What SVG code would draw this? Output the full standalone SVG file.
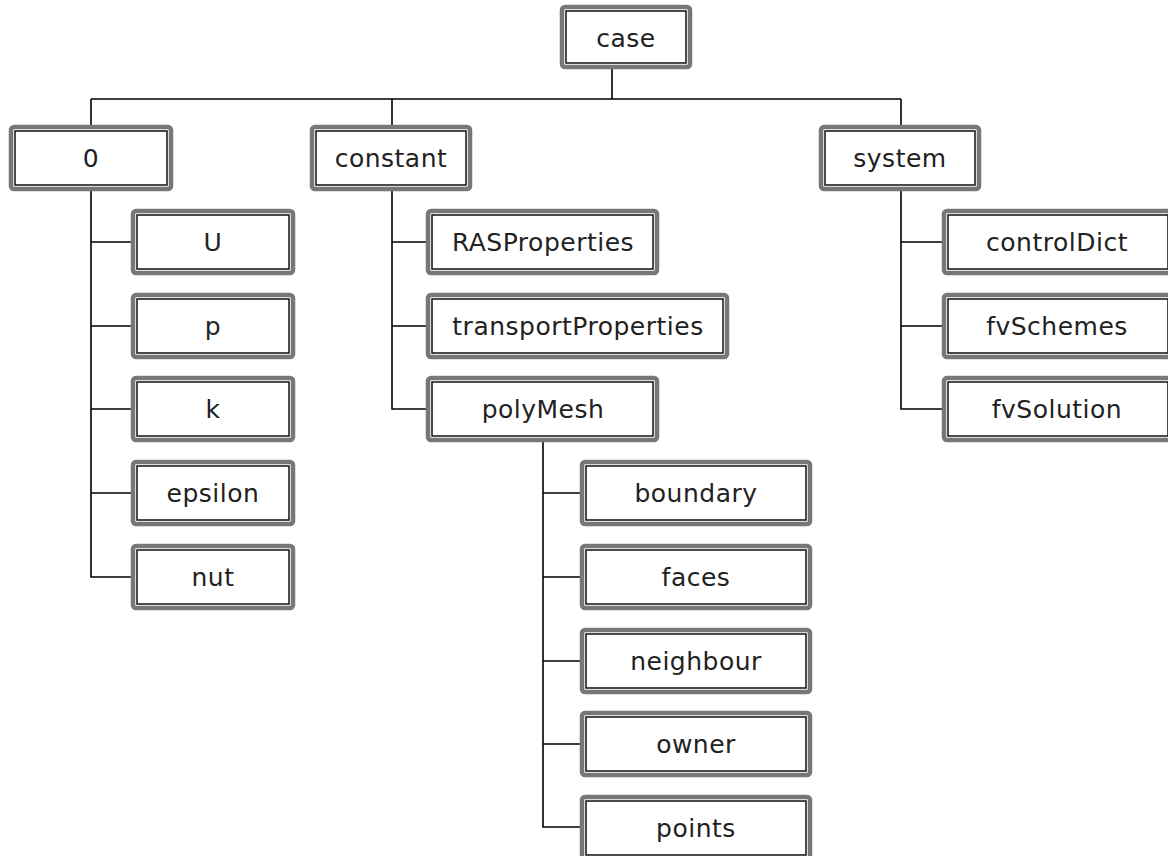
<svg xmlns="http://www.w3.org/2000/svg" width="1168" height="856" viewBox="0 0 1168 856">
<style>
.o{fill:#fff;stroke:#777;stroke-width:4.5}
.i{fill:none;stroke:#111;stroke-width:1.5}
.t{font-family:"DejaVu Sans","Verdana",sans-serif;font-size:25px;letter-spacing:0.5px;fill:#222;text-anchor:middle}
.c{fill:none;stroke:#000;stroke-width:1.6}
</style>
<defs>
<symbol id="dummy"/>
</defs>
<rect width="1168" height="856" fill="#fff"/>
<g id="connectors" class="c">
<path d="M612 67V99M91 99H901M91 99V127M392 99V127M901 99V127"/>
<path d="M91 189V577H135M91 242H135M91 326H135M91 409H135M91 493H135"/>
<path d="M392 189V409H430M392 242H430M392 326H430"/>
<path d="M543 440V827H584M543 493H584M543 577H584M543 661H584M543 744H584"/>
<path d="M901 189V409H946M901 242H946M901 326H946"/>
</g>
<g id="case"><rect class="o" x="562" y="7" width="128" height="60" rx="3"/><rect class="i" x="566" y="11" width="120" height="52"/><text class="t" x="626" y="47">case</text></g>
<g id="n0"><rect class="o" x="11" y="127" width="160" height="62" rx="3"/><rect class="i" x="15" y="131" width="152" height="54"/><text class="t" x="91" y="167">0</text></g>
<g id="constant"><rect class="o" x="312" y="127" width="158" height="62" rx="3"/><rect class="i" x="316" y="131" width="150" height="54"/><text class="t" x="391" y="167">constant</text></g>
<g id="system"><rect class="o" x="821" y="127" width="158" height="62" rx="3"/><rect class="i" x="825" y="131" width="150" height="54"/><text class="t" x="900" y="167">system</text></g>

<g id="U"><rect class="o" x="133" y="211" width="160" height="62" rx="3"/><rect class="i" x="137" y="215" width="152" height="54"/><text class="t" x="213" y="251">U</text></g>
<g id="p"><rect class="o" x="133" y="295" width="160" height="62" rx="3"/><rect class="i" x="137" y="299" width="152" height="54"/><text class="t" x="213" y="335">p</text></g>
<g id="k"><rect class="o" x="133" y="378" width="160" height="62" rx="3"/><rect class="i" x="137" y="382" width="152" height="54"/><text class="t" x="213" y="418">k</text></g>
<g id="epsilon"><rect class="o" x="133" y="462" width="160" height="62" rx="3"/><rect class="i" x="137" y="466" width="152" height="54"/><text class="t" x="213" y="502">epsilon</text></g>
<g id="nut"><rect class="o" x="133" y="546" width="160" height="62" rx="3"/><rect class="i" x="137" y="550" width="152" height="54"/><text class="t" x="213" y="586">nut</text></g>

<g id="RASProperties"><rect class="o" x="428" y="211" width="229" height="62" rx="3"/><rect class="i" x="432" y="215" width="221" height="54"/><text class="t" x="543" y="251">RASProperties</text></g>
<g id="transportProperties"><rect class="o" x="428" y="295" width="299" height="62" rx="3"/><rect class="i" x="432" y="299" width="291" height="54"/><text class="t" x="578" y="335">transportProperties</text></g>
<g id="polyMesh"><rect class="o" x="428" y="378" width="229" height="62" rx="3"/><rect class="i" x="432" y="382" width="221" height="54"/><text class="t" x="543" y="418">polyMesh</text></g>

<g id="boundary"><rect class="o" x="582" y="462" width="228" height="62" rx="3"/><rect class="i" x="586" y="466" width="220" height="54"/><text class="t" x="696" y="502">boundary</text></g>
<g id="faces"><rect class="o" x="582" y="546" width="228" height="62" rx="3"/><rect class="i" x="586" y="550" width="220" height="54"/><text class="t" x="696" y="586">faces</text></g>
<g id="neighbour"><rect class="o" x="582" y="630" width="228" height="62" rx="3"/><rect class="i" x="586" y="634" width="220" height="54"/><text class="t" x="696" y="670">neighbour</text></g>
<g id="owner"><rect class="o" x="582" y="713" width="228" height="62" rx="3"/><rect class="i" x="586" y="717" width="220" height="54"/><text class="t" x="696" y="753">owner</text></g>
<g id="points"><rect class="o" x="582" y="797" width="228" height="62" rx="3"/><rect class="i" x="586" y="801" width="220" height="54"/><text class="t" x="696" y="837">points</text></g>

<g id="controlDict"><rect class="o" x="944" y="211" width="228" height="62" rx="3"/><rect class="i" x="948" y="215" width="220" height="54"/><text class="t" x="1057" y="251">controlDict</text></g>
<g id="fvSchemes"><rect class="o" x="944" y="295" width="228" height="62" rx="3"/><rect class="i" x="948" y="299" width="220" height="54"/><text class="t" x="1057" y="335">fvSchemes</text></g>
<g id="fvSolution"><rect class="o" x="944" y="378" width="228" height="62" rx="3"/><rect class="i" x="948" y="382" width="220" height="54"/><text class="t" x="1057" y="418">fvSolution</text></g>
</svg>
